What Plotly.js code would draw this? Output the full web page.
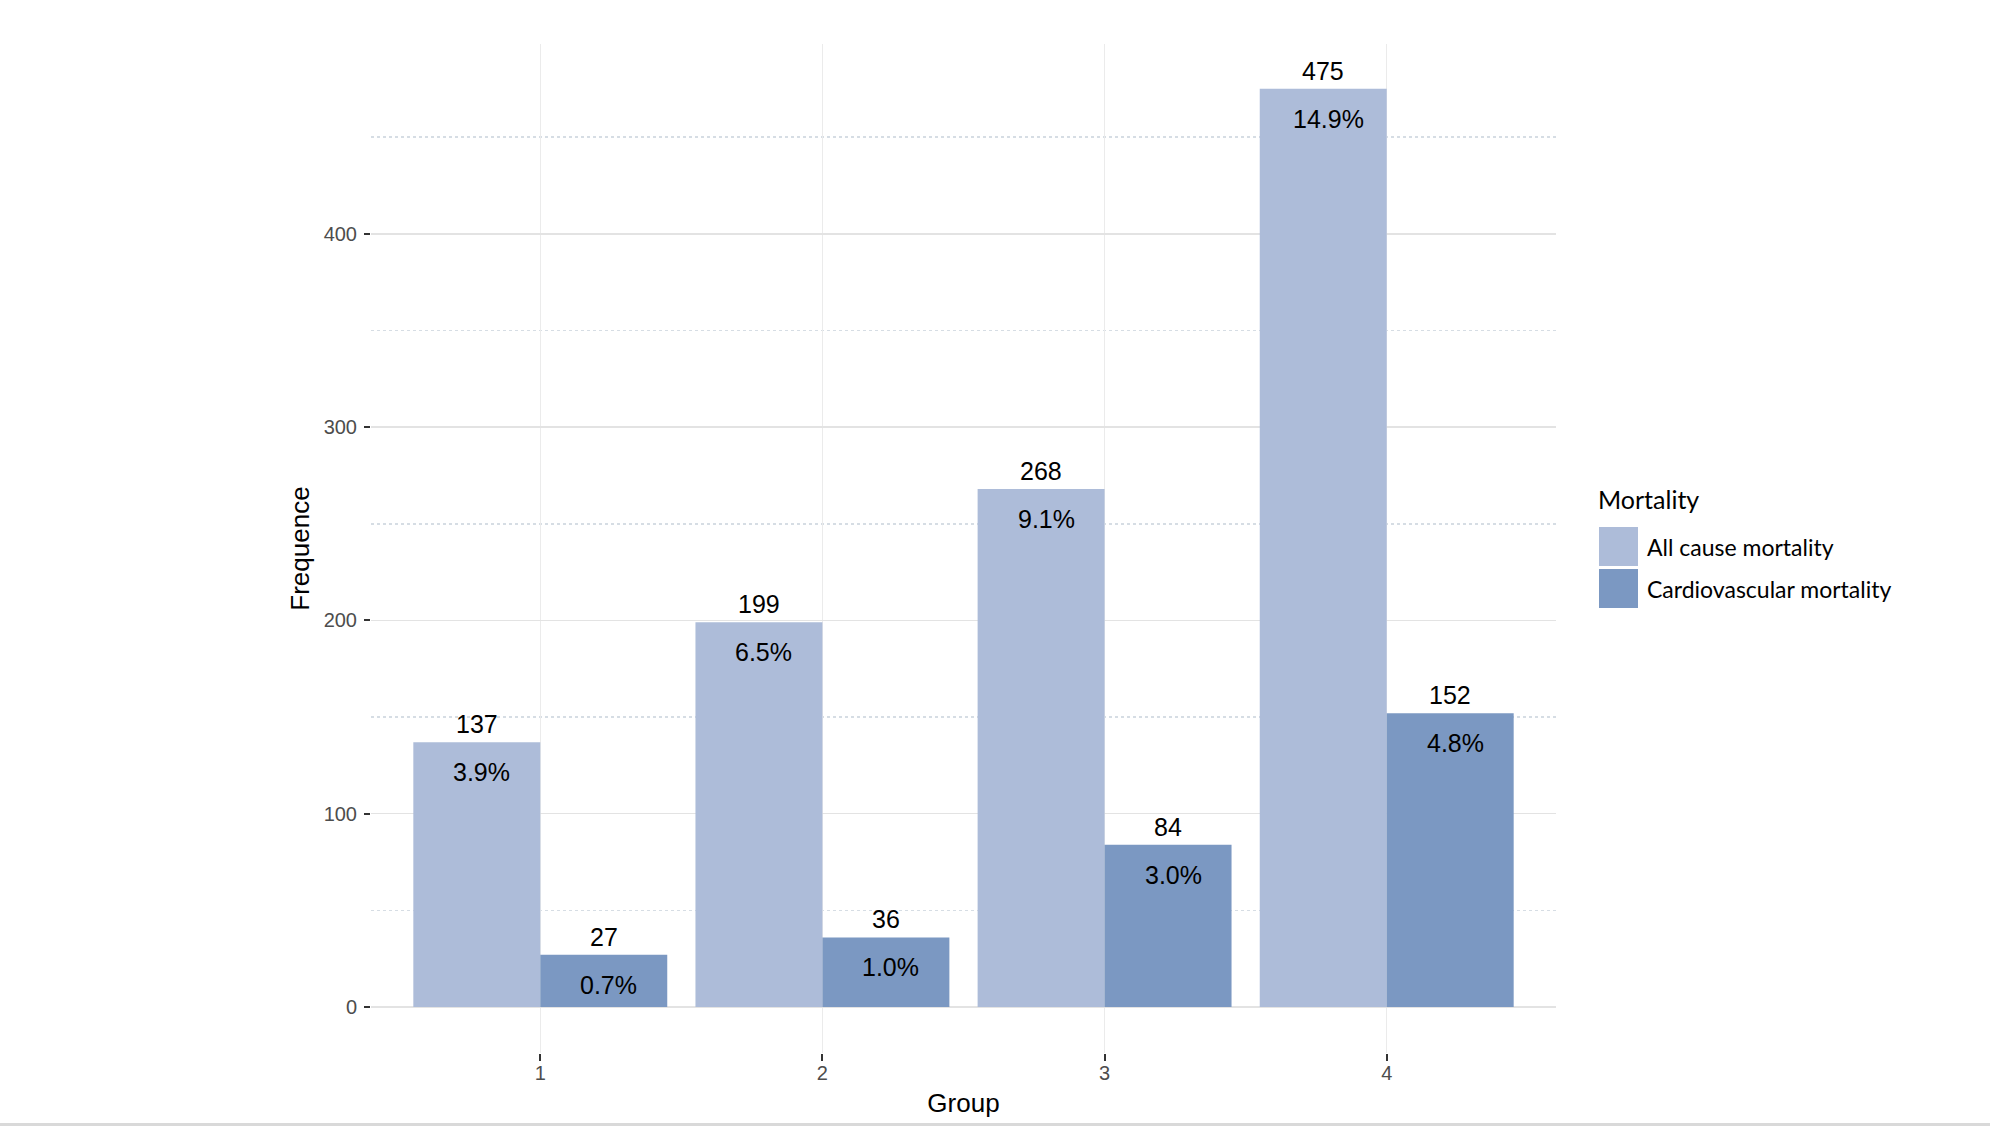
<!DOCTYPE html>
<html>
<head>
<meta charset="utf-8">
<script src="https://cdn.plot.ly/plotly-3.0.1.min.js"></script>
<style>
    html, body { margin: 0; padding: 0; background: #ffffff; }
    #barChart { width: 1990px; height: 1126px; }
</style>
</head>
<body>
<div id="barChart"></div>
<script>
// Data
const groups = [1, 2, 3, 4];
const groupLabels = ['1', '2', '3', '4'];
const allCause = [137, 199, 268, 475];
const cardiovascular = [27, 36, 84, 152];
const allCausePct = ['3.9%', '6.5%', '9.1%', '14.9%'];
const cardiovascularPct = ['0.7%', '1.0%', '3.0%', '4.8%'];
const seriesNames = ['All cause mortality', 'Cardiovascular mortality'];
const seriesColors = ['#adbcd9', '#7b98c2'];

const W = 1990, H = 1126;
const margin = { l: 371, r: 434, t: 44, b: 73 };
const plotW = W - margin.l - margin.r;
const plotH = H - margin.t - margin.b;

// pixel -> paper helpers, only for the hand-made legend
const px = x => (x - margin.l) / plotW;
const py = y => (H - margin.b - y) / plotH;

function createBarChart() {
    const series = [
        { y: allCause, pct: allCausePct, offset: -0.225 },
        { y: cardiovascular, pct: cardiovascularPct, offset: 0.225 }
    ];

    const traces = series.map((s, i) => ({
        x: groups,
        y: s.y,
        name: seriesNames[i],
        type: 'bar',
        marker: { color: seriesColors[i], line: { width: 0 } },
        showlegend: false
    }));

    const labelFont = { family: 'Liberation Sans, Arial, sans-serif', size: 25, color: '#000000' };
    const annotations = [];

    series.forEach(s => {
        groups.forEach((g, j) => {
            // count above the bar
            annotations.push({
                x: g + s.offset, y: s.y[j], xref: 'x', yref: 'y',
                text: String(s.y[j]), showarrow: false,
                yanchor: 'bottom', yshift: 2, font: labelFont
            });
            // percentage inside the top of the bar
            annotations.push({
                x: g + s.offset, y: s.y[j], xref: 'x', yref: 'y',
                text: s.pct[j], showarrow: false,
                yanchor: 'top', yshift: -14, xshift: 5, font: labelFont
            });
        });
    });

    // legend drawn by hand so the keys can be large squares
    const legendFont = { family: 'Lato, sans-serif', size: 23, color: '#000000' };
    annotations.push({
        x: px(1596), y: py(499), xref: 'paper', yref: 'paper',
        xanchor: 'left', yanchor: 'middle', showarrow: false,
        text: 'Mortality', font: { family: 'Lato, sans-serif', size: 25, color: '#000000' }
    });
    const shapes = [];
    seriesNames.forEach((name, i) => {
        const top = 527 + i * 42;
        shapes.push({
            type: 'rect', xref: 'paper', yref: 'paper',
            x0: px(1599), x1: px(1638), y0: py(top), y1: py(top + 39),
            fillcolor: seriesColors[i], line: { width: 0 }
        });
        annotations.push({
            x: px(1645), y: py(top + 20), xref: 'paper', yref: 'paper',
            xanchor: 'left', yanchor: 'middle', showarrow: false,
            text: name, font: legendFont
        });
    });

    // thin grey strip at the very bottom of the picture
    shapes.push({
        type: 'rect', xref: 'paper', yref: 'paper',
        x0: px(0), x1: px(W), y0: py(1123), y1: py(1127),
        fillcolor: '#d9d9d9', line: { width: 0 }, layer: 'below'
    });

    const tickFont = { family: 'Liberation Sans, Arial, sans-serif', size: 20, color: '#4d4d4d' };
    const titleFont = { family: 'Liberation Sans, Arial, sans-serif', size: 26, color: '#000000' };

    const layout = {
        width: W,
        height: H,
        margin: margin,
        paper_bgcolor: '#ffffff',
        plot_bgcolor: '#ffffff',
        barmode: 'group',
        bargap: 0.1,
        bargroupgap: 0,
        showlegend: false,
        xaxis: {
            type: 'linear',
            range: [0.4, 4.6],
            tickvals: groups,
            ticktext: groupLabels,
            ticks: 'outside',
            ticklen: 7,
            tickwidth: 2,
            tickcolor: '#333333',
            tickfont: tickFont,
            ticklabelstandoff: -5,
            showgrid: true,
            gridcolor: '#ebebeb',
            gridwidth: 1.5,
            zeroline: false,
            showline: false,
            title: { text: 'Group', font: titleFont, standoff: 10 }
        },
        yaxis: {
            range: [-23.8, 498.2],
            tickvals: [0, 100, 200, 300, 400],
            ticks: 'outside',
            ticklen: 6,
            tickwidth: 2,
            tickcolor: '#333333',
            tickfont: tickFont,
            ticklabelstandoff: 3,
            showgrid: true,
            gridcolor: '#e3e3e3',
            gridwidth: 1.5,
            zeroline: false,
            showline: false,
            minor: {
                tickvals: [50, 150, 250, 350, 450],
                showgrid: true,
                gridcolor: '#d6dde4',
                gridwidth: 1.5,
                griddash: 'dot',
                ticks: ''
            },
            title: { text: 'Frequence', font: titleFont, standoff: 6 }
        },
        shapes: shapes,
        annotations: annotations
    };

    Plotly.newPlot('barChart', traces, layout, { displayModeBar: false, staticPlot: true });
}

createBarChart();
</script>
</body>
</html>
